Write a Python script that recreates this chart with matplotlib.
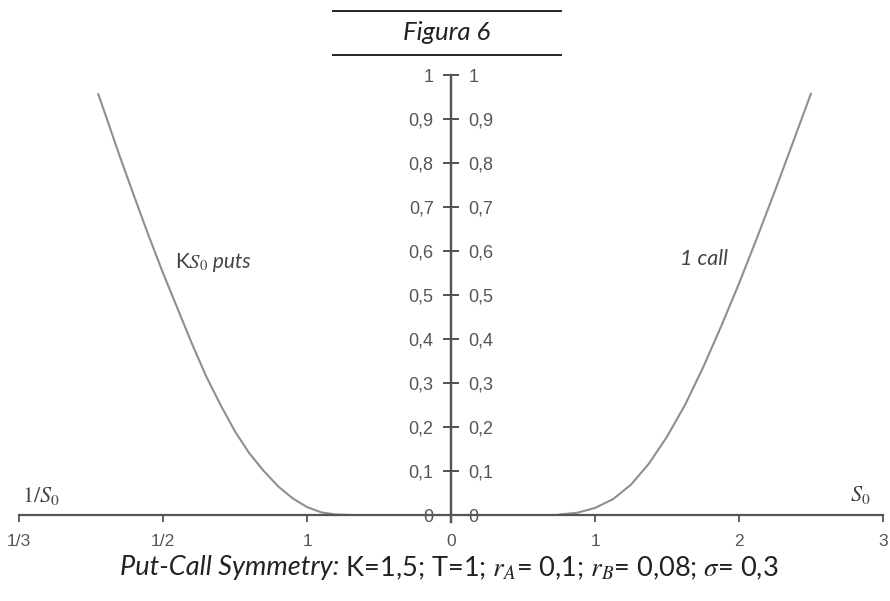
import numpy as np
import matplotlib
matplotlib.use("Agg")
import matplotlib.pyplot as plt
from matplotlib.lines import Line2D

plt.rcParams['mathtext.fontset'] = 'stix'

# right side: 1 call, plotted against S0
call_s = [0.75, 0.875, 1.0, 1.125, 1.25, 1.375, 1.5, 1.625, 1.75, 1.875, 2.0, 2.125, 2.25, 2.375, 2.5]
call_v = [0.001, 0.005, 0.016, 0.036, 0.069, 0.117, 0.178, 0.25, 0.335, 0.428, 0.526, 0.63, 0.737, 0.847, 0.958]

# left side: KS0 puts, distance from the centre (label is 1/S0)
put_s = [0.7, 0.8, 0.9, 1.0, 1.1, 1.2, 1.3, 1.4, 1.5, 1.6, 1.7, 1.8, 1.9, 2.0, 2.1, 2.2, 2.3, 2.4, 2.45]
put_v = [0.0, 0.001, 0.006, 0.018, 0.038, 0.065, 0.10, 0.14, 0.19, 0.25, 0.315, 0.39, 0.47, 0.55, 0.635, 0.724, 0.815, 0.91, 0.957]

x_ticks = [-3, -2, -1, 0, 1, 2, 3]
x_labels = ['1/3', '1/2', '1', '0', '1', '2', '3']
y_ticks = [0, 0.1, 0.2, 0.3, 0.4, 0.5, 0.6, 0.7, 0.8, 0.9, 1.0]
y_labels = ['0', '0,1', '0,2', '0,3', '0,4', '0,5', '0,6', '0,7', '0,8', '0,9', '1']

W, H = 890, 601
fig = plt.figure(figsize=(W / 100, H / 100), dpi=100)
ax = fig.add_axes([19 / W, 86 / H, 864 / W, 440 / H])
ax.set_xlim(-3, 3)
ax.set_ylim(0, 1)
ax.patch.set_visible(False)

axcol = '#555555'
curve = '#8f8f8f'

ax.plot(call_s, call_v, color=curve, lw=1.5, solid_capstyle='round')
ax.plot(-np.array(put_s), put_v, color=curve, lw=1.5, solid_capstyle='round')

# axes through the origin
ax.spines['top'].set_visible(False)
for side in ['left', 'right']:
    ax.spines[side].set_position(('data', 0))
    ax.spines[side].set_color(axcol)
    ax.spines[side].set_linewidth(1.6)
    ax.spines[side].set_bounds(-0.016, 1)
ax.spines['bottom'].set_position(('data', 0))
ax.spines['bottom'].set_color(axcol)
ax.spines['bottom'].set_linewidth(1.6)

ax.set_xticks(x_ticks)
ax.set_xticklabels(x_labels)
ax.set_yticks(y_ticks)
ax.set_yticklabels(y_labels)
ax.tick_params(axis='x', direction='out', length=5, width=1.3, color=axcol,
               pad=9, labelsize=12.5, labelcolor='#555555')
ax.tick_params(axis='y', direction='inout', length=11, width=1.3, color=axcol,
               left=True, right=True, labelleft=True, labelright=True,
               pad=7, labelsize=13, labelcolor='#555555')
for lab in ax.get_xticklabels() + ax.get_yticklabels():
    lab.set_fontfamily('Liberation Sans')

# axis names
ax.text(22 / W, 1 - 496 / H, r'$1/S_0$', transform=fig.transFigure, fontsize=16,
        color='#444444', ha='left', va='center')
ax.text(870 / W, 1 - 495 / H, r'$S_0$', transform=fig.transFigure, fontsize=16,
        color='#444444', ha='right', va='center')

rend = fig.canvas.get_renderer()


def chain(x, y, parts, size, color):
    # place text pieces one after another (x, y in pixels from top-left)
    for s, style in parts:
        t = fig.text(x / W, 1 - y / H, s, fontsize=size, color=color,
                     family='Lato', style=style, ha='left', va='center')
        x += t.get_window_extent(rend).width


chain(175, 262, [('K$S_0$', 'normal'), (' puts', 'italic')], 15, '#444444')
chain(680, 259, [('1 call', 'italic')], 15.5, '#444444')

# title between two rules
fig.text(447 / W, 1 - 33 / H, 'Figura 6', family='Lato', style='italic',
         fontsize=18.5, ha='center', va='center', color='#222222')
for yy in [11, 55]:
    fig.add_artist(Line2D([333 / W, 561 / W], [1 - yy / H, 1 - yy / H],
                          color='#222222', lw=1.4))

# caption
chain(120, 568, [('Put-Call Symmetry:', 'italic'),
                 (' K=1,5; T=1; $r_A$= 0,1; $r_B$= 0,08; $\\sigma$= 0,3', 'normal')],
      19.5, '#222222')

fig.savefig('out.png', dpi=100)
